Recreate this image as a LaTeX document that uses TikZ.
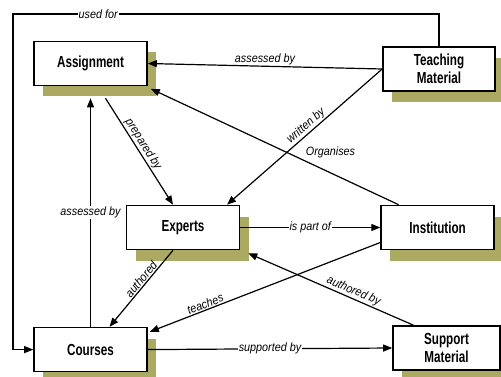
\documentclass[tikz,border=0pt]{standalone}
\usepackage{fontspec}
\usepackage{tikz}
\usepackage{xcolor}
\usetikzlibrary{arrows.meta, positioning, shadows}
\newfontfamily\boxfont[FakeStretch=0.73]{Liberation Sans}
\newfontfamily\edgefont[FakeStretch=0.9]{Liberation Sans}
\definecolor{cShadow}{RGB}{172,170,98}
\tikzset{
    concept/.style ={rectangle, minimum width=113pt, minimum height=44pt, align=center, draw=black, line width=1.6pt, fill=white,
                     font=\boxfont\bfseries\fontsize{16}{17.5}\selectfont,
                     drop shadow={shadow xshift=9pt, shadow yshift=-11pt, fill=cShadow, opacity=1}},
    link/.style    ={-{Triangle[length=9pt, width=7pt]}, line width=1.2pt},
    lbl/.style     ={font=\edgefont\itshape\fontsize{12}{14}\selectfont, inner sep=1pt},
    inlbl/.style   ={lbl, fill=white},
}

\begin{document}
\begin{tikzpicture}[x=1pt, y=-1pt]
    \useasboundingbox (0,0) rectangle (501,377);
    % concepts
    \node[concept] (asg) at (90.5,63.5) {Assignment};
    \node[concept, below=240.5pt of asg] (co) {Courses};
    \node[concept] (ex) at (183,227.5) {Experts};
    \node[concept, right=140pt of ex] (inst) {Institution};
    \node[concept, minimum width=112pt] (tm) at (439,69) {Teaching\\Material};
    \node[concept, minimum width=107pt] (sm) at (446.5,348) {Support\\Material};
    \coordinate (corner) at (13,14);

    % relations
    \draw[link] (tm.north) |- (corner) node[inlbl, pos=0.9]{used for} |- (co.west);
    \draw[link] (tm.west) -- (asg.east) node[lbl, midway, above]{assessed by};
    \draw[link] (tm.west) -- ([xshift=44pt]ex.north) node[lbl, sloped, above, pos=0.46]{written by};
    \draw[link] ([xshift=-39pt]inst.north) -- ([xshift=3pt, yshift=-2.5pt]asg.south east) node[lbl, pos=0.275, yshift=20pt]{Organises};
    \draw[link] ([xshift=15pt, yshift=-12pt]asg.south) -- ([xshift=-10pt]ex.north) node[lbl, sloped, above, pos=0.47]{prepared by};
    \draw[link] (co.north) -- ([yshift=-12pt]asg.south) node[inlbl, midway]{assessed by};
    \draw[link] (ex.east) -- (inst.west) node[inlbl, midway]{is part of};
    \draw[link] ([xshift=-10pt]ex.south) -- ([xshift=19pt]co.north) node[lbl, sloped, above, pos=0.43]{authored};
    \draw[link] ([yshift=-15pt]inst.west) -- ([xshift=2pt, yshift=-5pt]co.north east) node[lbl, sloped, above, pos=0.75]{teaches};
    \draw[link] ([xshift=-33pt]sm.north) -- ([xshift=8pt, yshift=-3pt]ex.south east) node[lbl, sloped, above, pos=0.38]{authored by};
    \draw[link] (co.east) -- (sm.west) node[inlbl, midway]{supported by};
\end{tikzpicture}
\end{document}
